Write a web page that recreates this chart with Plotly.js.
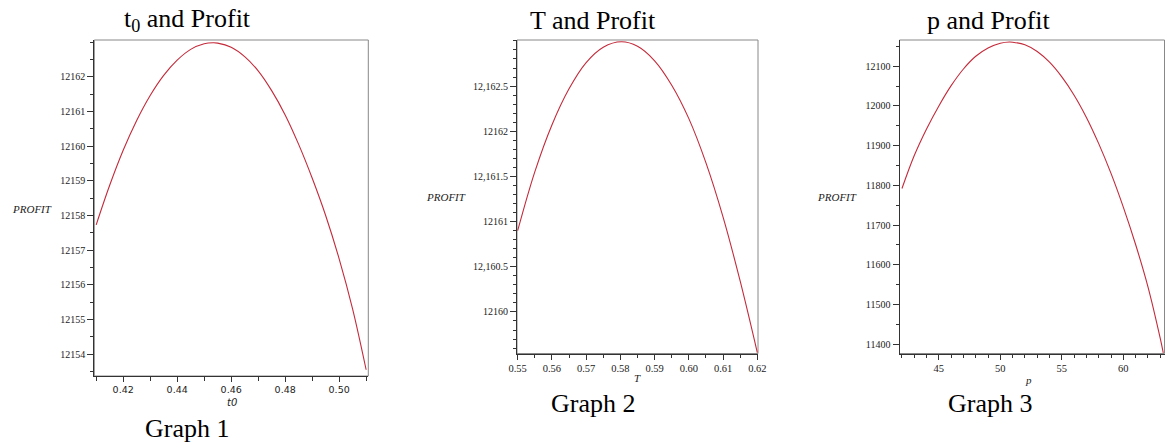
<!DOCTYPE html>
<html>
<head>
<meta charset="utf-8">
<script src="https://cdn.plot.ly/plotly-3.0.1.min.js"></script>
<style>html,body{margin:0;padding:0;background:#fff;}#chart{width:1165px;height:445px;}</style>
</head>
<body>
<div id="chart"></div>
<script>
// ---- Data ----
// Graph 1: t0 vs PROFIT
const t0Values = [0.41, 0.415, 0.42, 0.425, 0.43, 0.435, 0.44, 0.445, 0.45, 0.4533, 0.455, 0.46, 0.465, 0.47, 0.475, 0.48, 0.485, 0.49, 0.495, 0.50, 0.505, 0.51];
const profitT0 = [12157.73, 12158.87, 12159.88, 12160.74, 12161.46, 12162.04, 12162.48, 12162.79, 12162.95, 12162.98, 12162.97, 12162.85, 12162.58, 12162.17, 12161.60, 12160.90, 12160.05, 12159.08, 12158.00, 12156.75, 12155.30, 12153.55];
// Graph 2: T vs PROFIT
const tValues = [0.55, 0.555, 0.56, 0.565, 0.57, 0.575, 0.5803, 0.585, 0.59, 0.595, 0.60, 0.605, 0.61, 0.615, 0.62];
const profitT = [12160.90, 12161.55, 12162.07, 12162.47, 12162.76, 12162.93, 12162.99, 12162.94, 12162.78, 12162.51, 12162.14, 12161.65, 12161.05, 12160.34, 12159.55];
// Graph 3: p vs PROFIT
const pValues = [42, 43, 44, 45, 46, 47, 48, 49, 50, 50.75, 51, 52, 53, 54, 55, 56, 57, 58, 59, 60, 61, 62, 63, 63.25];
const profitP = [11792, 11875, 11942, 12000, 12051, 12093, 12125, 12146, 12158, 12161, 12160.5, 12154, 12137, 12110, 12073, 12027, 11971, 11905, 11830, 11745, 11651, 11545, 11415, 11378];

// Tick labels
const g1XTicks = [0.42, 0.44, 0.46, 0.48, 0.50];
const g1XLabels = ["0.42", "0.44", "0.46", "0.48", "0.50"];
const g1YTicks = [12154, 12155, 12156, 12157, 12158, 12159, 12160, 12161, 12162];
const g2XTicks = [0.55, 0.56, 0.57, 0.58, 0.59, 0.60, 0.61, 0.62];
const g2XLabels = ["0.55", "0.56", "0.57", "0.58", "0.59", "0.60", "0.61", "0.62"];
const g2YTicks = [12160, 12160.5, 12161, 12161.5, 12162, 12162.5];
const g2YLabels = ["12160", "12,160.5", "12161", "12,161.5", "12162", "12,162.5"];
const g3XTicks = [45, 50, 55, 60];
const g3YTicks = [11400, 11500, 11600, 11700, 11800, 11900, 12000, 12100];

// Text
const titles = ["t<sub>0</sub> and Profit", "T and Profit", "p and Profit"];
const captions = ["Graph 1", "Graph 2", "Graph 3"];
const xTitles = ["t0", "T", "p"];
const yTitle = "PROFIT";

// ---- Layout helpers ----
const W = 1165, H = 445;
const px = v => v / W;
const py = v => 1 - v / H;

const lineColor = "#c42a3a";
const serif = "'Liberation Serif', 'Times New Roman', Times, serif";
const sans = "'DejaVu Sans', Tahoma, 'Liberation Sans', sans-serif";
const axisCol = "#333";

function axis(opts) {
  return Object.assign({
    showgrid: false, zeroline: false, showline: true, linecolor: axisCol, linewidth: 1,
    ticks: "outside", ticklen: 5, tickcolor: axisCol, tickwidth: 1,
    fixedrange: true, automargin: false
  }, opts);
}

const lineStyle = {color: lineColor, width: 1.1, shape: "spline", smoothing: 1};
const traces = [
  {x: t0Values, y: profitT0, xaxis: "x", yaxis: "y", type: "scatter", mode: "lines", line: lineStyle, hoverinfo: "skip"},
  {x: tValues, y: profitT, xaxis: "x2", yaxis: "y2", type: "scatter", mode: "lines", line: lineStyle, hoverinfo: "skip"},
  {x: pValues, y: profitP, xaxis: "x3", yaxis: "y3", type: "scatter", mode: "lines", line: lineStyle, hoverinfo: "skip"}
];

const d1 = {x: [px(94.3), px(368.3)], y: [py(376), py(40)]};
const d2 = {x: [px(517), px(758)], y: [py(353.5), py(40)]};
const d3 = {x: [px(899.5), px(1164.5)], y: [py(353.5), py(40)]};

const layout = {
  width: W, height: H,
  margin: {l: 0, r: 0, t: 0, b: 0},
  paper_bgcolor: "#fff", plot_bgcolor: "#fff",
  showlegend: false,
  xaxis: axis({domain: d1.x, anchor: "y", range: [0.4093, 0.5108], tickmode: "array", tickvals: g1XTicks, ticktext: g1XLabels,
    tickfont: {family: sans, size: 9.5, color: "#222"},
    minor: {tickmode: "array", tickvals: [0.41, 0.43, 0.45, 0.47, 0.49, 0.51], ticks: "outside", ticklen: 4, tickcolor: axisCol}}),
  yaxis: axis({domain: d1.y, anchor: "x", range: [12153.37, 12163.06], tickmode: "array", tickvals: g1YTicks, ticktext: g1YTicks.map(String),
    tickfont: {family: serif, size: 10, color: "#222"}, ticklen: 6,
    minor: {tickmode: "linear", tick0: 12153.5, dtick: 0.5, ticks: "outside", ticklen: 3, tickcolor: axisCol}}),
  xaxis2: axis({domain: d2.x, anchor: "y2", range: [0.5498, 0.6202], tickmode: "array", tickvals: g2XTicks, ticktext: g2XLabels,
    tickfont: {family: serif, size: 10.5, color: "#222"},
    minor: {tickmode: "linear", tick0: 0.555, dtick: 0.005, ticks: "outside", ticklen: 3, tickcolor: axisCol}}),
  yaxis2: axis({domain: d2.y, anchor: "x2", range: [12159.54, 12163.01], tickmode: "array", tickvals: g2YTicks, ticktext: g2YLabels,
    tickfont: {family: serif, size: 10, color: "#222"}, ticklen: 6,
    minor: {tickmode: "linear", tick0: 12159.6, dtick: 0.1, ticks: "outside", ticklen: 3, tickcolor: axisCol}}),
  xaxis3: axis({domain: d3.x, anchor: "y3", range: [41.8, 63.35], tickmode: "array", tickvals: g3XTicks, ticktext: g3XTicks.map(String),
    tickfont: {family: serif, size: 10.5, color: "#222"},
    minor: {tickmode: "linear", tick0: 42, dtick: 1, ticks: "outside", ticklen: 3, tickcolor: axisCol}}),
  yaxis3: axis({domain: d3.y, anchor: "x3", range: [11376.5, 12166], tickmode: "array", tickvals: g3YTicks, ticktext: g3YTicks.map(String),
    tickfont: {family: serif, size: 10, color: "#222"}, ticklen: 6,
    minor: {tickmode: "linear", tick0: 11400, dtick: 50, ticks: "outside", ticklen: 3, tickcolor: axisCol}}),
  shapes: [
    {type: "rect", xref: "paper", yref: "paper", x0: d1.x[0], x1: d1.x[1], y0: d1.y[0], y1: d1.y[1], line: {color: "#888", width: 1}, layer: "below"},
    {type: "rect", xref: "paper", yref: "paper", x0: d2.x[0], x1: d2.x[1], y0: d2.y[0], y1: d2.y[1], line: {color: "#888", width: 1}, layer: "below"},
    {type: "rect", xref: "paper", yref: "paper", x0: d3.x[0], x1: d3.x[1], y0: d3.y[0], y1: d3.y[1], line: {color: "#888", width: 1}, layer: "below"}
  ],
  annotations: []
};

function ann(text, x, y, font, extra) {
  layout.annotations.push(Object.assign({
    text: text, xref: "paper", yref: "paper", x: px(x), y: py(y),
    xanchor: "center", yanchor: "middle", showarrow: false, font: font
  }, extra || {}));
}

const titleFont = {family: serif, size: 26, color: "#000"};
ann(titles[0], 187.5, 20, titleFont);
ann(titles[1], 593, 20, titleFont);
ann(titles[2], 989, 20, titleFont);
ann(captions[0], 186.7, 428, titleFont);
ann(captions[1], 593.3, 403, titleFont);
ann(captions[2], 990, 403, titleFont);

const yFont = {family: serif, size: 11, color: "#222", style: "italic"};
ann(yTitle, 31.7, 208.5, yFont);
ann(yTitle, 445.5, 197, yFont);
ann(yTitle, 837, 197, yFont);

ann(xTitles[0], 231.5, 402, {family: sans, size: 10, color: "#222", style: "italic"});
ann(xTitles[1], 637, 378, {family: serif, size: 11, color: "#222", style: "italic"});
ann(xTitles[2], 1028, 380, {family: serif, size: 11, color: "#222", style: "italic"});

Plotly.newPlot("chart", traces, layout, {staticPlot: true, displayModeBar: false});
</script>
</body>
</html>
